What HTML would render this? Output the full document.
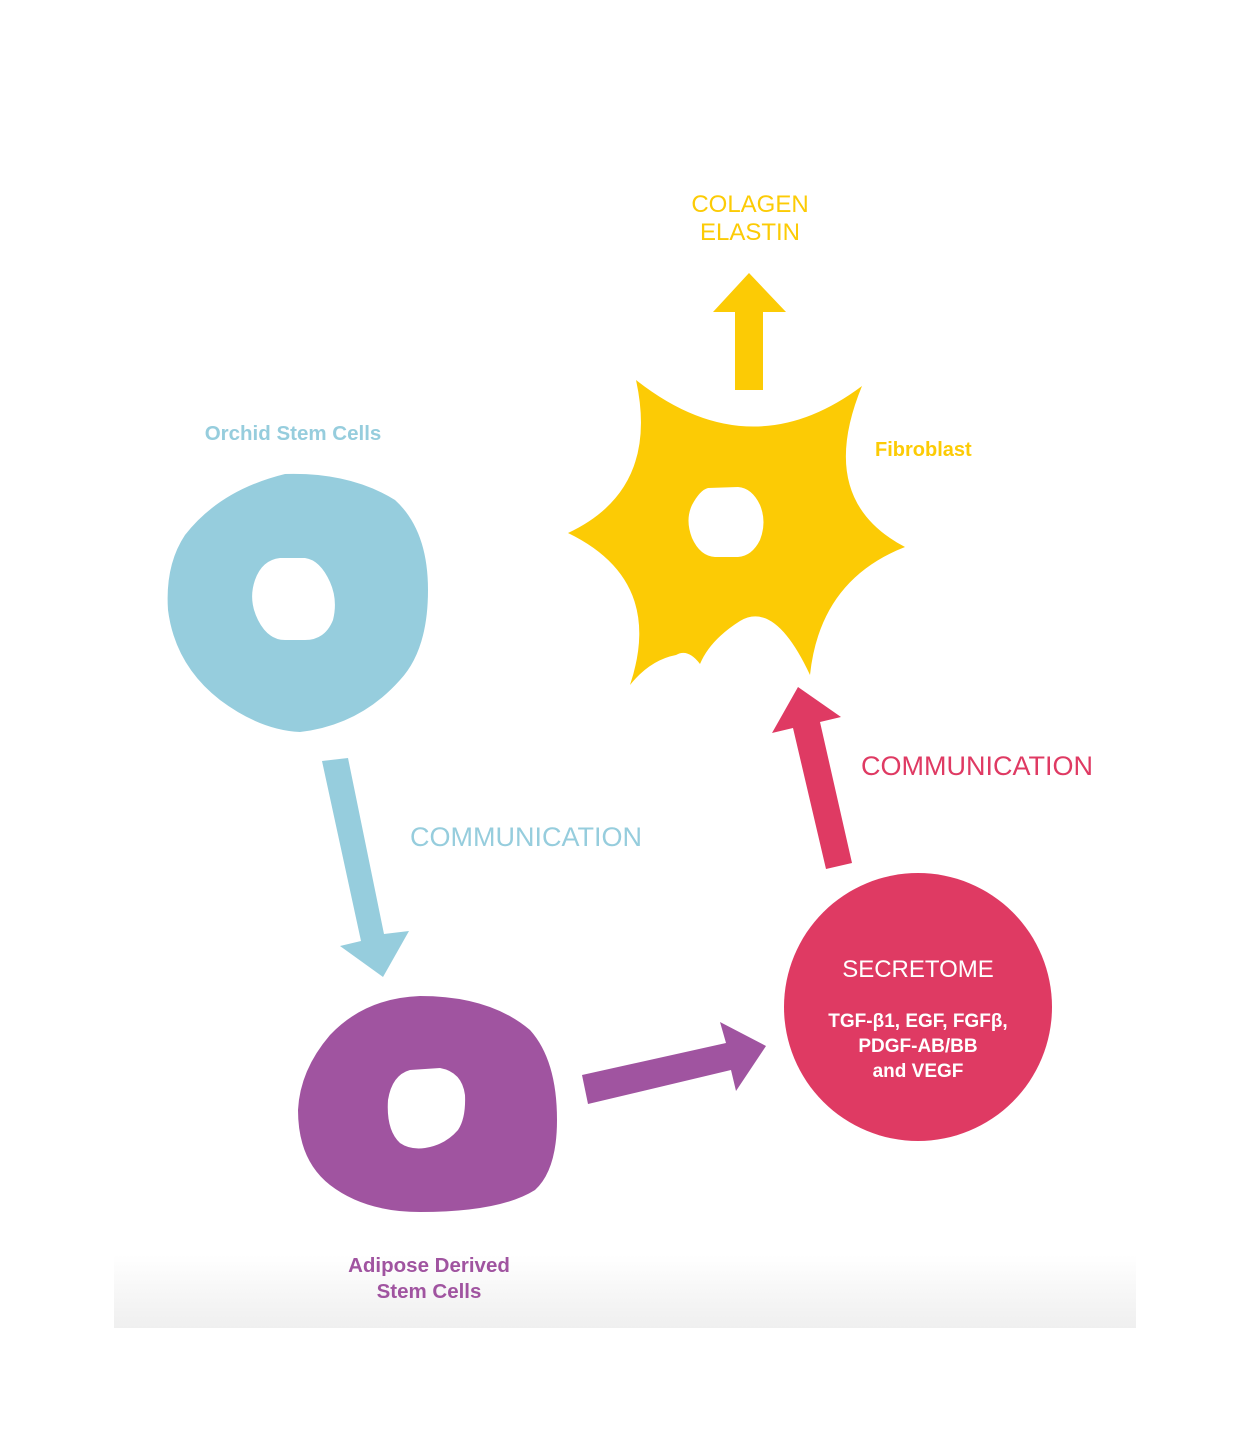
<!DOCTYPE html>
<html><head><meta charset="utf-8"><style>
html,body{margin:0;padding:0;background:#fff;}
svg{display:block;}
text{font-family:"Liberation Sans",sans-serif;}
</style></head><body>
<svg width="1250" height="1450" viewBox="0 0 1250 1450" xmlns="http://www.w3.org/2000/svg">
<defs><linearGradient id="g" x1="0" y1="0" x2="0" y2="1">
<stop offset="0" stop-color="#fff"/><stop offset="1" stop-color="#efefef"/></linearGradient></defs>
<rect x="114" y="1255" width="1022" height="73" fill="url(#g)"/>

<!-- Yellow arrow -->
<polygon points="749,273 786,312 763,312 763,390 735,390 735,312 713,312" fill="#fccb05"/>
<text x="750" y="212" font-size="24" fill="#fccb05" text-anchor="middle">COLAGEN</text>
<text x="750" y="240" font-size="24" fill="#fccb05" text-anchor="middle">ELASTIN</text>

<!-- Fibroblast -->
<path fill="#fccb05" fill-rule="evenodd" d="M636,380 Q750,470 862,386 Q815,500 905,547 Q820,580 810,675 Q775,600 740,621 Q710,640 700,664 Q688,648 676,655 Q650,660 630,685 Q665,580 568,533 Q660,490 636,380 Z
M708,488 Q700,490 692,505 Q685,520 692,538 Q700,556 715,557 L738,557 Q752,556 760,540 Q767,522 760,505 Q752,488 738,487 Z"/>
<text x="875" y="456" font-size="20" font-weight="bold" fill="#fccb05">Fibroblast</text>

<!-- Orchid stem cell -->
<path fill="#96cddd" fill-rule="evenodd" d="M285,474 Q350,472 395,500 Q428,530 428,590 Q428,650 400,680 Q360,725 300,732 Q260,730 220,700 Q175,665 168,610 Q165,565 185,535 Q220,490 285,474 Z
M280,558 Q262,560 255,580 Q248,600 258,620 Q268,640 285,640 L305,640 Q325,640 333,620 Q338,600 330,582 Q320,560 305,558 Z"/>
<text x="293" y="440" font-size="20.5" font-weight="bold" fill="#96cddd" text-anchor="middle">Orchid Stem Cells</text>

<!-- Blue arrow -->
<polygon points="322,761 348,758 384,934 409,931 383,977 340,946 361,941" fill="#96cddd"/>
<text x="526" y="846" font-size="27" fill="#96cddd" text-anchor="middle">COMMUNICATION</text>

<!-- Adipose cell -->
<path fill="#a054a0" fill-rule="evenodd" d="M420,996 Q490,996 530,1030 Q557,1060 557,1120 Q557,1170 535,1190 Q500,1212 420,1212 Q365,1212 330,1185 Q298,1160 298,1110 Q300,1070 330,1035 Q365,998 420,996 Z
M410,1070 Q392,1075 388,1100 Q386,1130 400,1143 Q410,1150 425,1148 Q445,1145 458,1130 Q466,1118 465,1095 Q462,1072 440,1068 Z"/>
<text x="429" y="1272" font-size="20.5" font-weight="bold" fill="#a054a0" text-anchor="middle">Adipose Derived</text>
<text x="429" y="1298" font-size="20.5" font-weight="bold" fill="#a054a0" text-anchor="middle">Stem Cells</text>

<!-- Purple arrow -->
<polygon points="582,1075 726,1043 720,1022 766,1046 736,1091 731,1070 588,1104" fill="#a054a0"/>

<!-- Red arrow -->
<polygon points="826,869 852,863 820,722 841,717 798,687 772,733 793,728" fill="#df3a63"/>
<text x="977" y="775" font-size="27" fill="#df3a63" text-anchor="middle">COMMUNICATION</text>

<!-- Secretome -->
<circle cx="918" cy="1007" r="134" fill="#df3a63"/>
<text x="918" y="977" font-size="24" fill="#fff" text-anchor="middle">SECRETOME</text>
<text x="918" y="1027" font-size="19" font-weight="bold" fill="#fff" text-anchor="middle">TGF-β1, EGF, FGFβ,</text>
<text x="918" y="1052" font-size="19" font-weight="bold" fill="#fff" text-anchor="middle">PDGF-AB/BB</text>
<text x="918" y="1077" font-size="19" font-weight="bold" fill="#fff" text-anchor="middle">and VEGF</text>
</svg>
</body></html>
